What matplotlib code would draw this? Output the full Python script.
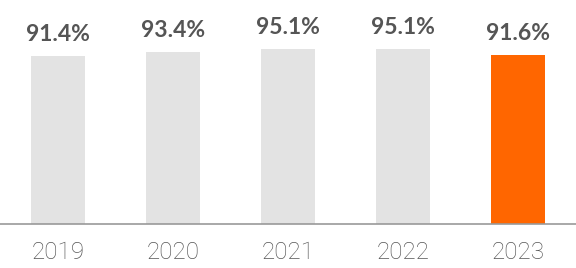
import matplotlib
matplotlib.use('Agg')
import matplotlib.pyplot as plt

years = ['2019', '2020', '2021', '2022', '2023']
rates = [91.4, 93.4, 95.1, 95.1, 91.6]

GREY_BAR = '#e3e3e3'
ORANGE = '#ff6600'
TEXT = '#555555'

fig = plt.figure(figsize=(5.76, 2.68), dpi=100)
ax = fig.add_axes([0, 44 / 268, 1, 224 / 268])

x = list(range(len(years)))
colors = [GREY_BAR] * (len(years) - 1) + [ORANGE]
ax.bar(x, rates, width=0.47, color=colors)

# value labels above bars
for xi, v in zip(x, rates):
    ax.annotate(f'{v:.1f}%', (xi, v), xytext=(0, 8), textcoords='offset points',
                ha='center', va='bottom', fontsize=16.5, fontweight='bold',
                color=TEXT, family=['Lato', 'DejaVu Sans'])

ax.set_xlim(-0.504, 4.504)
ax.set_ylim(0, 121.7)
ax.set_yticks([])
ax.set_xticks(x)
ax.set_xticklabels(years, fontsize=17.5, color=TEXT, fontweight='light',
                   family=['Roboto', 'DejaVu Sans'])
ax.tick_params(axis='x', length=0, pad=12)

for s in ['top', 'left', 'right']:
    ax.spines[s].set_visible(False)
ax.spines['bottom'].set_color('#999999')
ax.spines['bottom'].set_linewidth(1.2)

fig.savefig('out.png', dpi=100)
